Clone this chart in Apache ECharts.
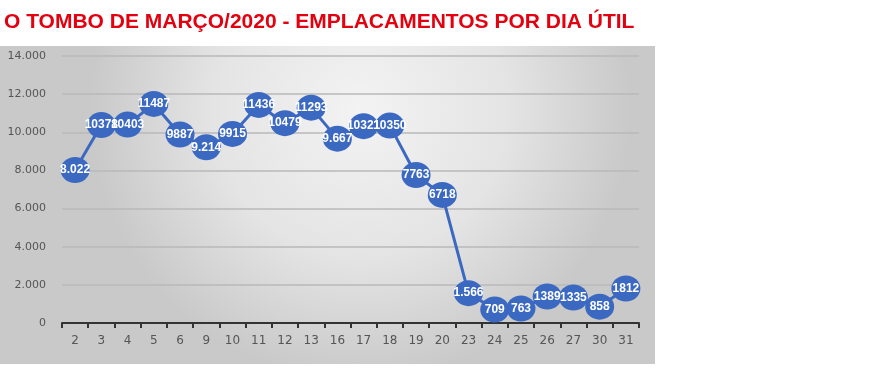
<!DOCTYPE html>
<html>
<head>
    <meta charset="UTF-8">
    <title>Emplacamentos por dia útil</title>
    <style type="text/css">
        html, body { margin: 0; padding: 0; background: #fff; }
        #main { width: 870px; height: 368px; }
    </style>
</head>
<body>
<div id="main"></div>
<script src="https://cdn.jsdelivr.net/npm/echarts@6/dist/echarts.min.js"></script>
<script>
    // dias úteis de março/2020
    var dias = ['2', '3', '4', '5', '6', '9', '10', '11', '12', '13', '16', '17', '18', '19', '20', '23', '24', '25', '26', '27', '30', '31'];
    // emplacamentos por dia
    var emplacamentos = [8022, 10378, 10403, 11487, 9887, 9214, 9915, 11436, 10479, 11293, 9667, 10321, 10350, 7763, 6718, 1566, 709, 763, 1389, 1335, 858, 1812];
    // rótulos como aparecem no gráfico original
    var rotulos = ['8.022', '10378', '10403', '11487', '9887', '9.214', '9915', '11436', '10479', '11293', '9.667', '10321', '10350', '7763', '6718', '1.566', '709', '763', '1389', '1335', '858', '1812'];

    var myChart = echarts.init(document.getElementById('main'));

    var option = {
        backgroundColor: '#fff',
        title: {
            text: 'O TOMBO DE MARÇO/2020 - EMPLACAMENTOS POR DIA ÚTIL',
            left: -1,
            top: 7,
            textStyle: {
                color: '#e3000f',
                fontFamily: 'Liberation Sans',
                fontWeight: 'bold',
                fontSize: 21
            }
        },
        graphic: [{
            type: 'rect',
            z: -10,
            shape: { x: 0, y: 46, width: 655, height: 318 },
            style: {
                fill: new echarts.graphic.RadialGradient(0.55, 0.2, 0.85, [
                    { offset: 0, color: '#f3f3f3' },
                    { offset: 0.55, color: '#e4e4e4' },
                    { offset: 1, color: '#c9c9c9' }
                ])
            }
        }],
        grid: {
            left: 62,
            right: 231,
            top: 56,
            bottom: 45
        },
        xAxis: {
            type: 'category',
            data: dias,
            boundaryGap: true,
            axisLine: { lineStyle: { color: '#333', width: 2 } },
            axisTick: { show: true, length: 5, lineStyle: { color: '#333', width: 2 } },
            axisLabel: { color: '#555', fontSize: 12, margin: 12, fontFamily: 'DejaVu Sans' }
        },
        yAxis: {
            type: 'value',
            min: 0,
            max: 14000,
            interval: 2000,
            axisLine: { show: false },
            axisTick: { show: false },
            axisLabel: {
                color: '#555',
                fontSize: 11,
                margin: 16,
                fontFamily: 'DejaVu Sans',
                formatter: function (v) {
                    return v === 0 ? '0' : (v / 1000).toFixed(3);
                }
            },
            splitLine: { lineStyle: { color: '#b8b8b8', width: 1.5 } }
        },
        series: [{
            name: 'Emplacamentos',
            type: 'line',
            data: emplacamentos,
            symbol: 'circle',
            symbolSize: [29, 26],
            lineStyle: { color: '#3b69c2', width: 3 },
            itemStyle: { color: '#3b69c2' },
            label: {
                show: true,
                position: 'inside',
                color: '#fff',
                fontWeight: 'bold',
                fontSize: 12,
                fontFamily: 'Liberation Sans',
                formatter: function (p) {
                    return rotulos[p.dataIndex];
                }
            },
            animation: false
        }]
    };

    myChart.setOption(option);
</script>
</body>
</html>
